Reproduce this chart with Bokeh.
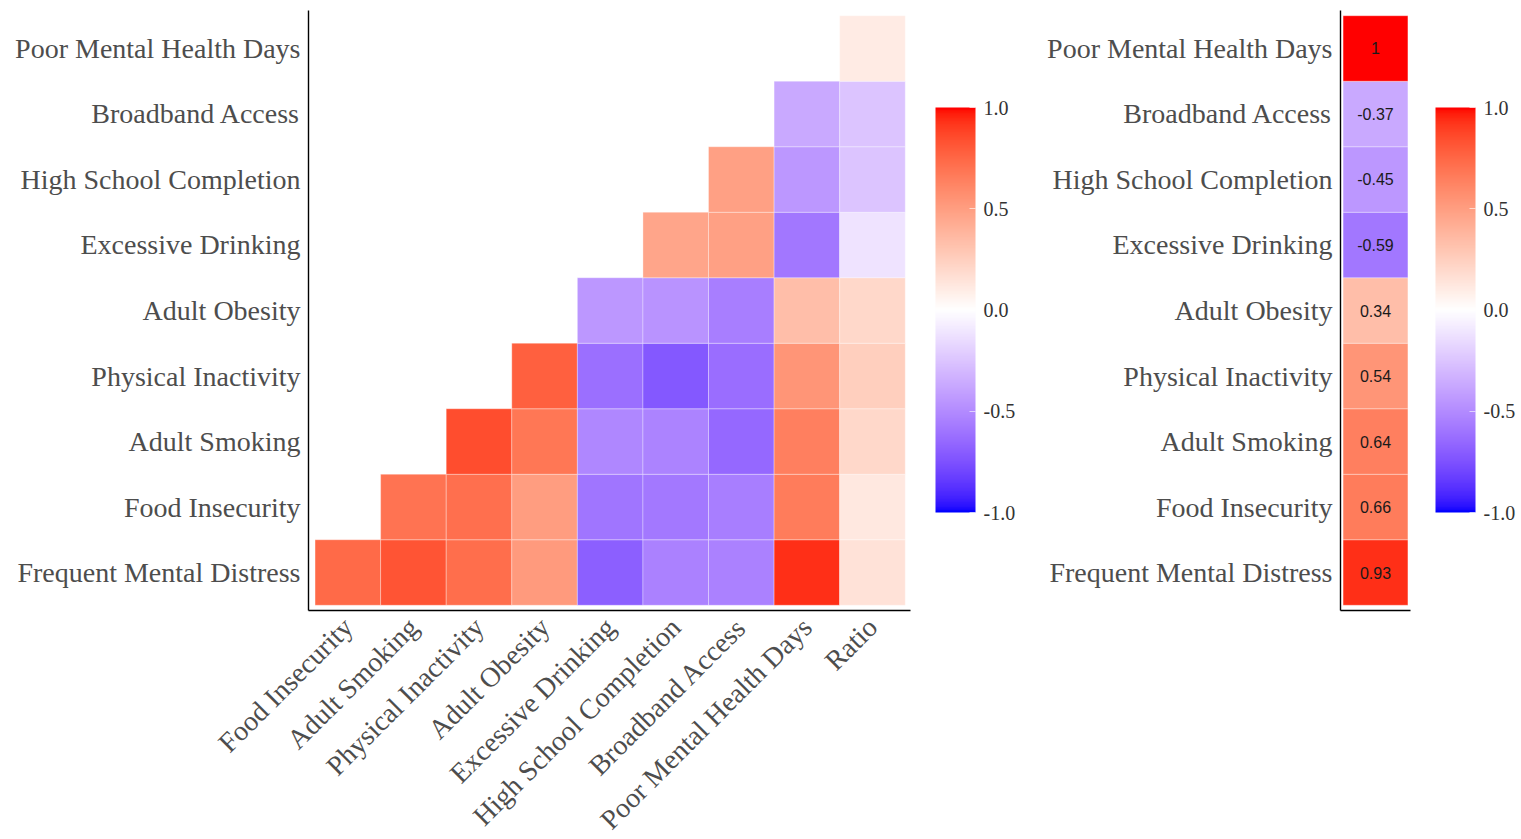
import math
from bokeh.plotting import figure
from bokeh.models import (ColumnDataSource, LinearColorMapper, ColorBar, FixedTicker,
                          PrintfTickFormatter)
from bokeh.layouts import row
from bokeh.embed import file_html
from bokeh.resources import INLINE
from bokeh.core.properties import value

# ---------------- data ----------------
col_vars = ["Food Insecurity", "Adult Smoking", "Physical Inactivity", "Adult Obesity",
            "Excessive Drinking", "High School Completion", "Broadband Access",
            "Poor Mental Health Days", "Ratio"]
# rows listed bottom -> top
row_vars = ["Frequent Mental Distress", "Food Insecurity", "Adult Smoking",
            "Physical Inactivity", "Adult Obesity", "Excessive Drinking",
            "High School Completion", "Broadband Access", "Poor Mental Health Days"]

# each row's correlations with the columns to its right (lower triangle)
corr_fmd = [0.74, 0.82, 0.72, 0.52, -0.69, -0.54, -0.54, 0.93, 0.15]
corr_fi = [0.70, 0.71, 0.50, -0.60, -0.58, -0.56, 0.66, 0.12]
corr_as = [0.85, 0.68, -0.52, -0.53, -0.65, 0.64, 0.20]
corr_pi = [0.78, -0.62, -0.72, -0.63, 0.54, 0.25]
corr_ao = [-0.45, -0.46, -0.56, 0.34, 0.20]
corr_ed = [0.46, 0.49, -0.59, -0.12]
corr_hsc = [0.49, -0.45, -0.25]
corr_ba = [-0.37, -0.25]
corr_pmhd = [0.10]
row_corrs = [corr_fmd, corr_fi, corr_as, corr_pi, corr_ao, corr_ed, corr_hsc, corr_ba, corr_pmhd]

# correlation of each row variable with Poor Mental Health Days (bottom -> top)
pmhd_corr = [0.93, 0.66, 0.64, 0.54, 0.34, -0.59, -0.45, -0.37, 1.0]

colorbar_ticks = [-1.0, -0.5, 0.0, 0.5, 1.0]

# ---------------- Lab gradient palette (blue - white - red) ----------------
def _lin(c):
    c = c / 255.0
    return c / 12.92 if c <= 0.04045 else ((c + 0.055) / 1.055) ** 2.4

def _gam(c):
    c = max(0.0, min(1.0, c))
    return 12.92 * c if c <= 0.0031308 else 1.055 * c ** (1 / 2.4) - 0.055

WN = (0.95047, 1.0, 1.08883)

def hex2lab(h):
    r, g, b = (_lin(int(h[i:i + 2], 16)) for i in (1, 3, 5))
    X = 0.4124564 * r + 0.3575761 * g + 0.1804375 * b
    Y = 0.2126729 * r + 0.7151522 * g + 0.0721750 * b
    Z = 0.0193339 * r + 0.1191920 * g + 0.9503041 * b
    def f(t):
        return t ** (1 / 3) if t > (6 / 29) ** 3 else t / (3 * (6 / 29) ** 2) + 4 / 29
    fx, fy, fz = f(X / WN[0]), f(Y / WN[1]), f(Z / WN[2])
    return (116 * fy - 16, 500 * (fx - fy), 200 * (fy - fz))

def lab2hex(L, a, b):
    fy = (L + 16) / 116
    fx = fy + a / 500
    fz = fy - b / 200
    def finv(t):
        return t ** 3 if t > 6 / 29 else 3 * (6 / 29) ** 2 * (t - 4 / 29)
    X, Y, Z = WN[0] * finv(fx), WN[1] * finv(fy), WN[2] * finv(fz)
    r = 3.2404542 * X - 1.5371385 * Y - 0.4985314 * Z
    g = -0.9692660 * X + 1.8760108 * Y + 0.0415560 * Z
    bb = 0.0556434 * X - 0.2040259 * Y + 1.0572252 * Z
    return "#%02x%02x%02x" % tuple(int(round(_gam(c) * 255)) for c in (r, g, bb))

lab_low, lab_mid, lab_high = hex2lab("#0000ff"), hex2lab("#ffffff"), hex2lab("#ff0000")
N = 255
palette = []
for i in range(N):
    v = -1 + 2 * i / (N - 1)
    end = lab_high if v >= 0 else lab_low
    t = abs(v)
    palette.append(lab2hex(*[lab_mid[k] + (end[k] - lab_mid[k]) * t for k in range(3)]))

mapper = LinearColorMapper(palette=palette, low=-1, high=1)

SERIF = "Liberation Serif"
LABEL_COLOR = "#4d4d4d"


def style_axes(p):
    for ax in (p.xaxis[0], p.yaxis[0]):
        ax.axis_line_color = "black"
        ax.axis_line_width = 1.4
        ax.major_tick_line_color = None
        ax.major_tick_out = 0
        ax.major_tick_in = 0
        ax.minor_tick_line_color = None
        ax.minor_tick_out = 0
        ax.major_label_text_font = SERIF
        ax.major_label_text_font_size = "28px"
        ax.major_label_text_color = LABEL_COLOR
    p.yaxis.ticker = FixedTicker(ticks=list(range(1, len(row_vars) + 1)))
    p.yaxis.major_label_overrides = {i + 1: n for i, n in enumerate(row_vars)}
    p.yaxis.major_label_standoff = 8
    p.grid.visible = False
    p.outline_line_color = None


def make_cb():
    return ColorBar(color_mapper=mapper, ticker=FixedTicker(ticks=colorbar_ticks),
                    formatter=PrintfTickFormatter(format="%.1f"),
                    width=40, height=405, margin=0, padding=0,
                    location=(25, 98), bar_line_color=None,
                    major_tick_line_color="white", major_tick_line_alpha=0.6,
                    major_tick_in=6, major_tick_out=0, minor_tick_line_color=None,
                    label_standoff=8, major_label_text_font=SERIF,
                    major_label_text_font_size="20px", major_label_text_color="#333333",
                    background_fill_alpha=0)

# ---------------- left: triangular heatmap ----------------
xs, ys, vs = [], [], []
for ri, vals in enumerate(row_corrs):
    for k, v in enumerate(vals):
        xs.append(ri + 1 + k)   # column index (1-based)
        ys.append(ri + 1)
        vs.append(v)
src = ColumnDataSource(dict(x=xs, y=ys, v=vs))

p1 = figure(frame_width=602, frame_height=600, x_range=(0.40, 9.58), y_range=(0.42, 9.58),
            output_backend="svg", toolbar_location=None,
            min_border_left=308, min_border_right=122, min_border_top=10, min_border_bottom=200)
p1.rect(x="x", y="y", width=1, height=1, source=src,
        fill_color={"field": "v", "transform": mapper},
        line_color="white", line_alpha=0.45, line_width=0.7)
style_axes(p1)
p1.xaxis.ticker = FixedTicker(ticks=list(range(1, len(col_vars) + 1)))
p1.xaxis.major_label_overrides = {i + 1: n for i, n in enumerate(col_vars)}
p1.xaxis.major_label_orientation = math.pi / 4
p1.xaxis.major_label_standoff = 12
p1.add_layout(make_cb(), "right")

# ---------------- right: single column ----------------
src2 = ColumnDataSource(dict(x=[1] * len(row_vars), y=list(range(1, len(row_vars) + 1)),
                             v=pmhd_corr,
                             t=[("%.2f" % v).rstrip("0").rstrip(".") for v in pmhd_corr]))
p2 = figure(frame_width=70, frame_height=600, x_range=(0.46, 1.54), y_range=(0.42, 9.58),
            output_backend="svg", toolbar_location=None,
            min_border_left=308, min_border_right=100, min_border_top=10, min_border_bottom=200)
p2.rect(x="x", y="y", width=1, height=1, source=src2,
        fill_color={"field": "v", "transform": mapper},
        line_color="white", line_alpha=0.45, line_width=0.7)
p2.text(x="x", y="y", text="t", source=src2, text_align="center", text_baseline="middle",
        text_font=value("Liberation Sans"), text_font_size="16px", text_color="#1a1a1a")
style_axes(p2)
p2.xaxis.ticker = FixedTicker(ticks=[])
p2.add_layout(make_cb(), "right")

layout = row(p1, p2, spacing=0)
open("out.html", "w").write(file_html(layout, INLINE))
